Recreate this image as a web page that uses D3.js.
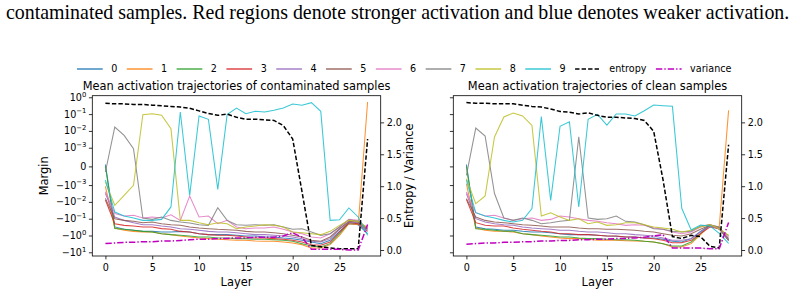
<!DOCTYPE html>
<html>
<head>
<meta charset="utf-8">
<script src="https://cdn.jsdelivr.net/npm/d3@7"></script>
<style>
  body { margin: 0; background: #fff; }
  svg { display: block; }
  text { font-family: "DejaVu Sans", sans-serif; fill: #000; }
</style>
</head>
<body>
<div id="chart"></div>
<script>
var layers = d3.range(0, 29);
var classNames = ["0", "1", "2", "3", "4", "5", "6", "7", "8", "9"];
var layerTicks = [0, 5, 10, 15, 20, 25];
var marginTicks = [1, 0.1, 0.01, 0.001, 0, -0.001, -0.01, -0.1, -1, -10];
var ratioTicks = [0, 0.5, 1, 1.5, 2];

// margins per class, contaminated samples (layers 0..28)
var contaminatedMargin = [
  [0.0001, -0.31, -0.43, -0.49, -0.57, -0.57, -0.62, -0.62, -0.57, -0.62, -0.78, -0.89, -0.89, -0.89, -0.98, -1.07, -1.07, -1.23, -1.23, -1.41, -1.54, -1.94, -2.44, -3.06, -1.94, -0.57, -0.20, -0.23, -0.78],
  [-0.0012, -0.36, -0.49, -0.57, -0.62, -0.62, -0.78, -0.89, -1.07, -1.23, -1.41, -1.54, -1.69, -1.77, -1.94, -1.94, -2.13, -2.22, -2.22, -2.44, -2.80, -3.51, -5.54, -5.54, -3.51, -0.98, -0.20, -0.23, 0.52],
  [0, -0.39, -0.43, -0.49, -0.57, -0.62, -0.78, -0.89, -0.98, -1.07, -1.23, -1.23, -1.41, -1.41, -1.54, -1.54, -1.69, -1.69, -1.77, -1.94, -2.22, -3.06, -4.22, -4.83, -3.06, -0.78, -0.17, -0.20, -0.31],
  [-0.0077, -0.20, -0.25, -0.27, -0.31, -0.31, -0.39, -0.43, -0.57, -0.62, -0.78, -0.89, -0.98, -0.98, -1.07, -1.23, -1.41, -1.41, -1.54, -1.69, -1.94, -2.44, -3.51, -3.85, -2.44, -0.62, -0.17, -0.20, -0.57],
  [-0.0031, -0.079, -0.126, -0.173, -0.227, -0.227, -0.272, -0.312, -0.393, -0.43, -0.49, -0.57, -0.62, -0.62, -0.68, -0.78, -0.89, -0.89, -0.98, -1.07, -1.23, -1.54, -2.22, -2.44, -1.54, -0.43, -0.158, -0.173, -0.49],
  [-0.0062, -0.10, -0.126, -0.144, -0.173, -0.158, -0.198, -0.227, -0.249, -0.312, -0.358, -0.393, -0.43, -0.45, -0.49, -0.57, -0.62, -0.62, -0.68, -0.78, -0.98, -1.23, -1.94, -2.22, -1.23, -0.39, -0.144, -0.158, -0.43],
  [-0.0025, -0.050, -0.069, -0.063, -0.091, -0.079, -0.091, -0.058, -0.126, -0.0045, -0.079, -0.069, -0.198, -0.126, -0.312, -0.393, -0.358, -0.358, -0.312, -0.43, -0.62, -0.78, -1.23, -1.41, -0.78, -0.312, -0.110, -0.126, -0.393],
  [-0.0003, 0.017, 0.0054, 0.00095, -0.091, -0.110, -0.079, -0.126, -0.158, -0.181, -0.227, -0.249, -0.022, -0.126, -0.227, -0.249, -0.227, -0.249, -0.227, -0.312, -0.43, -0.393, -0.62, -0.98, -0.78, -0.312, -0.115, -0.144, -0.393],
  [-0.00084, -0.016, -0.0041, -0.00104, 0.093, 0.106, 0.085, 0.0134, -0.126, -0.126, -0.173, -0.227, -0.173, -0.198, -0.393, -0.312, -0.272, -0.227, -0.249, -0.312, -0.62, -0.68, -0.78, -0.89, -0.565, -0.249, -0.126, -0.144, -0.358],
  [-0.00073, -0.040, -0.069, -0.091, -0.126, -0.126, -0.110, -0.020, 0.133, -0.0041, 0.078, 0.049, -0.0018, 0.093, 0.23, 0.106, 0.146, 0.133, 0.167, 0.23, 0.40, 0.34, 0.48, 0.146, -0.126, -0.115, -0.023, -0.079, -0.98]
];
var contaminatedEntropy = [2.30, 2.29, 2.29, 2.28, 2.28, 2.27, 2.26, 2.25, 2.24, 2.22, 2.18, 2.14, 2.11, 2.13, 2.08, 2.05, 2.05, 2.04, 2.03, 1.95, 1.74, 0.91, 0.07, 0.05, 0.03, 0.02, 0.02, 0.02, 1.74];
var contaminatedVariance = [0.10, 0.11, 0.12, 0.12, 0.13, 0.13, 0.14, 0.14, 0.15, 0.16, 0.17, 0.17, 0.18, 0.18, 0.19, 0.19, 0.20, 0.20, 0.20, 0.22, 0.27, 0.20, 0.01, 0.01, 0.01, 0.01, 0.0, 0.0, 0.40];

// margins per class, clean samples
var cleanMargin = [
  [0.0001, -0.312, -0.393, -0.43, -0.49, -0.49, -0.565, -0.62, -0.62, -0.68, -0.78, -0.89, -0.89, -0.89, -0.98, -1.07, -1.12, -1.23, -1.23, -1.41, -1.41, -1.69, -2.22, -2.44, -1.54, -0.565, -0.249, -0.393, -1.94],
  [-0.00092, -0.358, -0.49, -0.565, -0.565, -0.62, -0.78, -0.89, -1.07, -1.23, -1.41, -1.54, -1.54, -1.69, -1.94, -1.94, -1.94, -2.03, -2.13, -2.22, -2.44, -3.06, -4.83, -4.83, -3.06, -0.89, -0.249, -0.312, 0.167],
  [0, -0.393, -0.43, -0.49, -0.565, -0.565, -0.78, -0.89, -0.98, -1.07, -1.23, -1.23, -1.41, -1.54, -1.54, -1.69, -1.77, -1.77, -1.94, -2.22, -2.44, -3.06, -4.22, -4.22, -2.44, -0.78, -0.227, -0.43, -0.98],
  [-0.0071, -0.173, -0.249, -0.272, -0.272, -0.358, -0.43, -0.49, -0.565, -0.62, -0.78, -0.78, -0.89, -0.89, -0.98, -1.07, -1.07, -1.23, -1.23, -1.41, -1.54, -1.94, -2.67, -2.67, -1.94, -0.78, -0.312, -0.393, -1.94],
  [-0.0032, -0.100, -0.158, -0.198, -0.227, -0.249, -0.312, -0.358, -0.393, -0.43, -0.49, -0.49, -0.565, -0.62, -0.62, -0.68, -0.78, -0.78, -0.89, -0.98, -1.07, -1.41, -1.94, -1.94, -1.54, -0.62, -0.272, -0.393, -1.69],
  [-0.0064, -0.079, -0.126, -0.158, -0.173, -0.198, -0.227, -0.249, -0.272, -0.312, -0.312, -0.312, -0.358, -0.393, -0.393, -0.43, -0.43, -0.45, -0.49, -0.565, -0.62, -0.78, -0.98, -1.07, -0.78, -0.43, -0.249, -0.358, -1.54],
  [-0.0026, -0.044, -0.069, -0.063, -0.091, -0.126, -0.100, -0.091, -0.126, -0.110, -0.069, -0.079, -0.100, -0.126, -0.144, -0.173, -0.198, -0.249, -0.227, -0.249, -0.358, -0.43, -0.62, -0.78, -0.62, -0.312, -0.227, -0.393, -1.23],
  [-0.00048, 0.0148, 0.0049, -0.0032, -0.091, -0.126, -0.091, -0.126, -0.198, -0.173, -0.144, -0.126, 0.0044, -0.091, -0.110, -0.100, -0.069, -0.144, -0.158, -0.227, -0.393, -0.43, -0.565, -0.62, -0.565, -0.272, -0.227, -0.312, -1.94],
  [-0.00066, -0.0128, -0.0044, 0.0044, 0.068, 0.116, 0.078, 0.021, -0.069, -0.044, -0.079, -0.126, -0.100, -0.198, -0.158, -0.249, -0.227, -0.173, -0.173, -0.227, -0.312, -0.358, -0.43, -0.62, -0.49, -0.312, -0.227, -0.393, -0.98],
  [-0.00073, -0.044, -0.069, -0.091, -0.126, -0.158, -0.126, -0.025, 0.071, -0.0081, 0.019, 0.035, -0.020, 0.049, 0.097, 0.022, 0.101, 0.101, 0.078, 0.160, 0.348, 0.316, 0.29, -0.024, -0.47, -0.236, -0.27, -0.74, -2.93]
];
var cleanEntropy = [2.31, 2.30, 2.30, 2.29, 2.29, 2.29, 2.27, 2.25, 2.24, 2.21, 2.17, 2.16, 2.13, 2.15, 2.11, 2.08, 2.08, 2.07, 2.06, 2.03, 1.86, 1.10, 0.21, 0.18, 0.23, 0.21, 0.06, 0.03, 1.65];
var cleanVariance = [0.09, 0.10, 0.11, 0.11, 0.12, 0.12, 0.13, 0.13, 0.14, 0.14, 0.15, 0.15, 0.16, 0.16, 0.17, 0.17, 0.18, 0.18, 0.19, 0.20, 0.22, 0.24, 0.03, 0.03, 0.03, 0.03, 0.02, 0.02, 0.43];

(function () {
  "use strict";

  var colors = d3.schemeCategory10,
    varColor = "#bf00bf",
    tickFont = 9.6,
    plotTop = 95.7,
    plotBottom = 256;

  var svg = d3.select("#chart").append("svg")
    .attr("width", 794).attr("height", 294);

  // caption line from the paper, fitted to the page width
  var cap = svg.append("text")
    .attr("x", 6).attr("y", 19)
    .style("font-family", "'Liberation Serif', 'Times New Roman', serif")
    .style("font-size", "17px")
    .text("contaminated samples. Red regions denote stronger activation and blue denotes weaker activation.");
  cap.style("font-size", (17 * 784 / cap.node().getComputedTextLength()) + "px");

  // matplotlib style symlog (linthresh 1e-3, linscale 1)
  var LT = 1e-3, LS = 1 / (1 - 1 / 10);
  function slog(v) {
    var a = Math.abs(v);
    if (a <= LT) { return v / LT * LS; }
    return (v < 0 ? -1 : 1) * (LS + Math.log10(a / LT));
  }

  var yM = d3.scaleLinear().domain([-5.331, 4.206]).range([plotBottom, plotTop]);
  var yR = d3.scaleLinear().domain([-0.094, 2.418]).range([plotBottom, plotTop]);

  function supLabel(sel, v) {
    sel.text(null);
    if (v === 0) { sel.text("0"); return; }
    var e = Math.round(Math.log10(Math.abs(v)));
    sel.append("tspan").text(v < 0 ? "\u221210" : "10");
    sel.append("tspan").attr("dy", -4.2).style("font-size", "6.8px")
      .text(e < 0 ? "\u2212" + (-e) : String(e));
  }

  function panel(x0, x1, title, margins, entropy, variance, leftLabels, rightLabel) {
    var x = d3.scaleLinear().domain([-1.4, 29.4]).range([x0, x1]),
      g = svg.append("g");

    var marginLine = d3.line().x(function (d, i) { return x(layers[i]); })
      .y(function (d) { return yM(slog(d)); });
    var ratioLine = d3.line().x(function (d, i) { return x(layers[i]); })
      .y(function (d) { return yR(d); });

    g.selectAll("path.cls").data(margins).enter().append("path")
      .attr("class", "cls")
      .attr("d", marginLine)
      .attr("fill", "none")
      .attr("stroke", function (d, i) { return colors[i]; })
      .attr("stroke-opacity", 0.85)
      .attr("stroke-width", 1.05);

    g.append("path").attr("d", ratioLine(entropy))
      .attr("fill", "none").attr("stroke", "#000")
      .attr("stroke-width", 1.5).attr("stroke-dasharray", "4.4,2.1");
    g.append("path").attr("d", ratioLine(variance))
      .attr("fill", "none").attr("stroke", varColor)
      .attr("stroke-width", 1.5).attr("stroke-dasharray", "6.4,2,1.4,2");

    // axes
    var ax = g.append("g").attr("transform", "translate(0," + plotBottom + ")")
      .call(d3.axisBottom(x).tickValues(layerTicks).tickSize(3.4).tickPadding(4.6));
    var al = g.append("g").attr("transform", "translate(" + x0 + ",0)")
      .call(d3.axisLeft(yM).tickValues(marginTicks.map(slog)).tickSize(3.4).tickPadding(2.6));
    if (leftLabels) {
      al.selectAll(".tick text").each(function (d, i) { supLabel(d3.select(this), marginTicks[i]); });
    } else {
      al.selectAll(".tick text").remove();
    }
    var ar = g.append("g").attr("transform", "translate(" + x1 + ",0)")
      .call(d3.axisRight(yR).tickValues(ratioTicks).tickFormat(d3.format(".1f")).tickSize(3.4).tickPadding(2.6));

    [ax, al, ar].forEach(function (a) {
      a.select(".domain").remove();
      a.selectAll(".tick line").attr("stroke", "#000").attr("stroke-width", 0.8);
      a.selectAll(".tick text").style("font-family", "'DejaVu Sans', sans-serif")
        .style("font-size", tickFont + "px").attr("fill", "#000");
    });

    g.append("rect").attr("x", x0).attr("y", plotTop)
      .attr("width", x1 - x0).attr("height", plotBottom - plotTop)
      .attr("fill", "none").attr("stroke", "#000").attr("stroke-width", 0.8);

    g.append("text").attr("x", (x0 + x1) / 2).attr("y", 89.5)
      .attr("text-anchor", "middle").style("font-size", "11.4px").text(title);
    g.append("text").attr("x", (x0 + x1) / 2).attr("y", 286)
      .attr("text-anchor", "middle").style("font-size", "11.4px").text("Layer");
    if (leftLabels) {
      g.append("text").attr("transform", "translate(48," + ((plotTop + plotBottom) / 2) + ") rotate(-90)")
        .attr("text-anchor", "middle").style("font-size", "11.4px").text("Margin");
    }
    if (rightLabel) {
      g.append("text").attr("transform", "translate(413," + ((plotTop + plotBottom) / 2) + ") rotate(-90)")
        .attr("text-anchor", "middle").style("font-size", "11.4px").text("Entropy / Variance");
    }
  }

  panel(92.3, 380.7, "Mean activation trajectories of contaminated samples",
    contaminatedMargin, contaminatedEntropy, contaminatedVariance, true, true);
  panel(453.3, 741.7, "Mean activation trajectories of clean samples",
    cleanMargin, cleanEntropy, cleanVariance, false, false);

  // legend row
  var legendItems = classNames.map(function (n, i) {
    return { label: n, color: colors[i], dash: null, opacity: 0.85 };
  }).concat([
    { label: "entropy", color: "#000", dash: "4.4,2.1", opacity: 1 },
    { label: "variance", color: varColor, dash: "6.4,2,1.4,2", opacity: 1 }
  ]);
  var lg = svg.append("g"), cx = 77, ly = 69;
  legendItems.forEach(function (it) {
    lg.append("line").attr("x1", cx).attr("x2", cx + 25.7).attr("y1", ly).attr("y2", ly)
      .attr("stroke", it.color).attr("stroke-opacity", it.opacity)
      .attr("stroke-width", 1.5)
      .attr("stroke-dasharray", it.dash);
    var t = lg.append("text").attr("x", cx + 34.2).attr("y", ly + 3.4)
      .style("font-size", "9.6px").text(it.label);
    cx += 34.2 + t.node().getComputedTextLength() + 9.5;
  });
}());
</script>
</body>
</html>
